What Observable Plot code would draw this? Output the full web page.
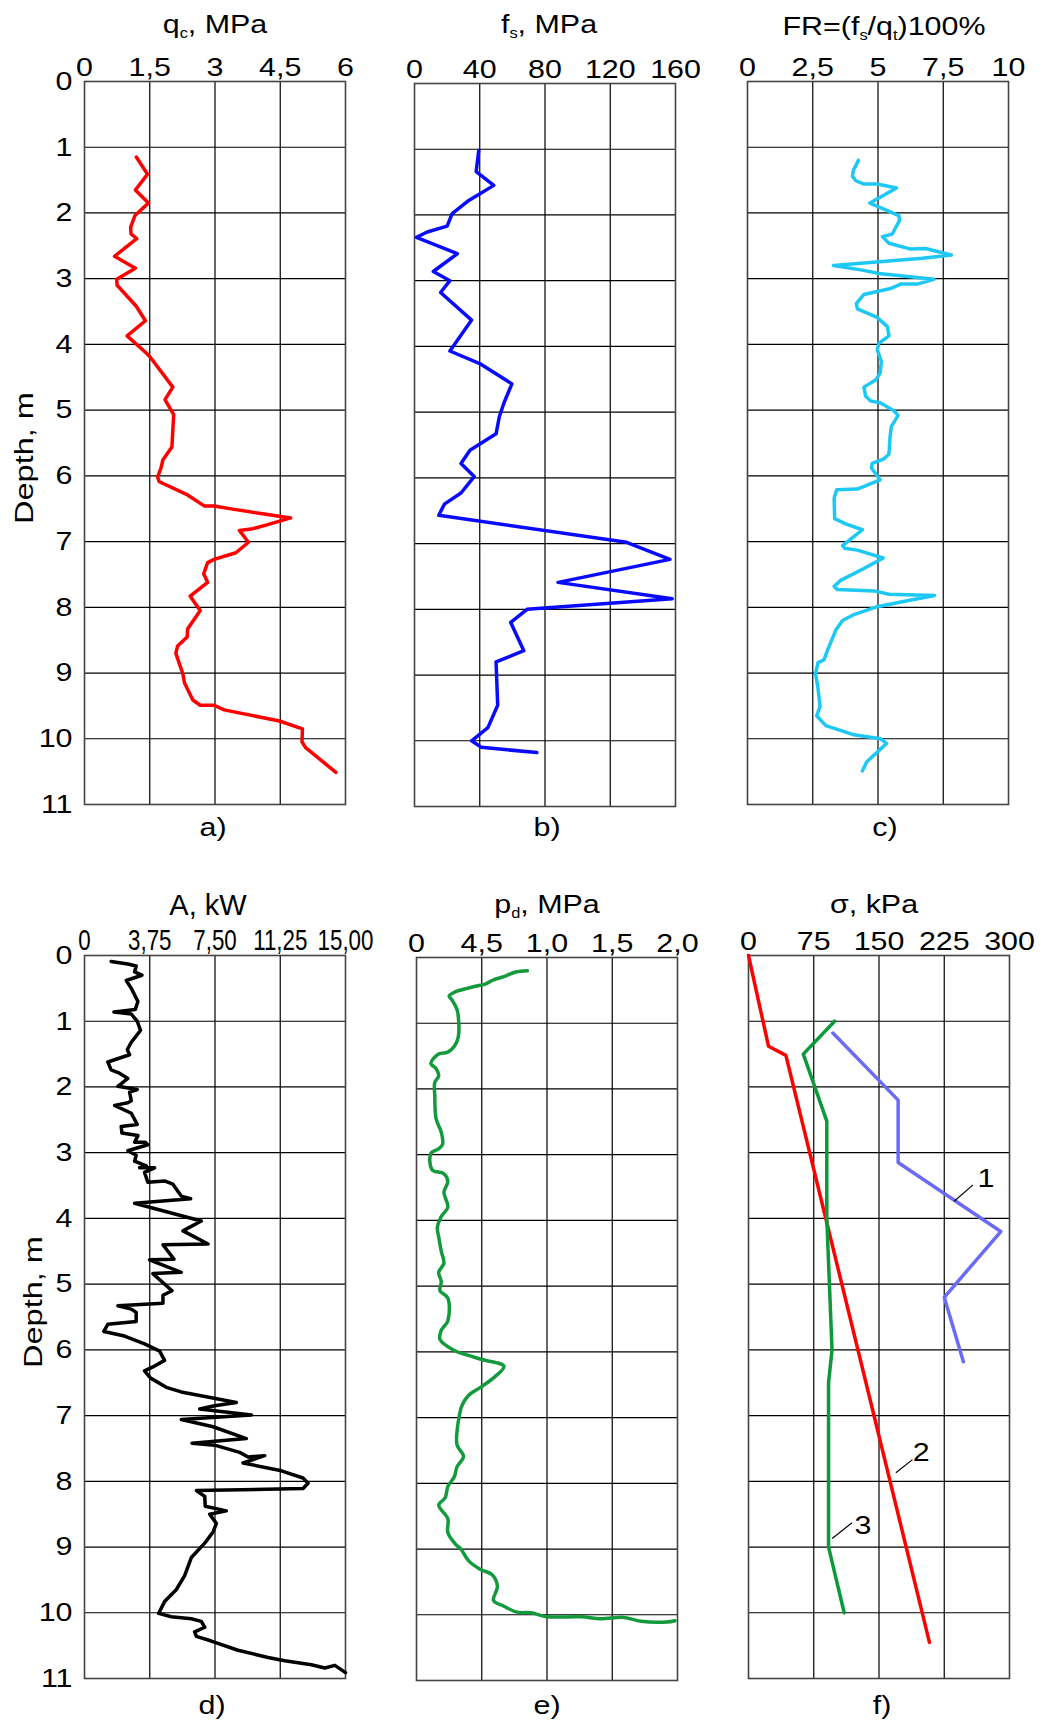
<!DOCTYPE html>
<html><head><meta charset="utf-8">
<script src="https://cdn.jsdelivr.net/npm/d3@7"></script>
<script src="https://cdn.jsdelivr.net/npm/@observablehq/plot@0.6"></script>
<style>
body{margin:0;background:#fff;}
#root{position:relative;width:1046px;height:1723px;overflow:hidden;font-family:"Liberation Sans",Arial,sans-serif;color:#000;}
.t{position:absolute;font-size:26px;line-height:26px;white-space:nowrap;transform:translateX(-50%) scaleX(1.17);}
.t sub{font-size:14px;line-height:0;vertical-align:baseline;position:relative;top:5px;}
.big{font-size:29px;transform:translateX(-50%);}
.rot{position:absolute;font-size:26px;line-height:26px;white-space:nowrap;transform:translate(-50%,-50%) rotate(-90deg) scaleX(1.25);}
svg{position:absolute;}
</style></head><body><div id="root"></div>
<script>
// ---------- DATA ([value, depth] pairs) ----------
const depthTicks = [0,1,2,3,4,5,6,7,8,9,10,11];

const qcTicks = [0,1.5,3,4.5,6];
const qcLabels = ["0","1,5","3","4,5","6"];
const qc = [[1.19,1.15],[1.45,1.41],[1.17,1.65],[1.47,1.85],[1.16,2.04],[1.06,2.22],[1.07,2.32],[1.20,2.39],[0.69,2.66],[1.17,2.84],[0.74,3.01],[0.75,3.10],[1.19,3.42],[1.40,3.64],[0.98,3.87],[1.45,4.15],[1.53,4.21],[2.03,4.65],[1.85,4.84],[2.05,5.07],[2.01,5.56],[1.80,5.76],[1.76,5.88],[1.68,6.02],[1.72,6.09],[2.37,6.29],[2.76,6.46],[2.98,6.46],[3.44,6.51],[4.13,6.58],[4.74,6.64],[4.17,6.75],[3.83,6.81],[3.56,6.83],[3.77,7.01],[3.48,7.17],[2.98,7.27],[2.83,7.32],[2.74,7.49],[2.83,7.62],[2.43,7.83],[2.66,8.05],[2.37,8.33],[2.36,8.45],[2.14,8.59],[2.10,8.70],[2.26,9.01],[2.30,9.15],[2.49,9.41],[2.66,9.49],[2.98,9.49],[3.21,9.56],[4.48,9.73],[5.01,9.85],[5.00,10.05],[5.09,10.14],[5.78,10.51]];

const fsTicks = [0,40,80,120,160];
const fsLabels = ["0","40","80","120","160"];
const fs = [[39.4,1.02],[37.8,1.34],[48.6,1.55],[33.3,1.78],[23.1,1.98],[20,2.17],[7.8,2.26],[1.2,2.34],[26.2,2.59],[11.5,2.86],[21.7,3.0],[16,3.18],[35,3.6],[21.7,4.07],[40.7,4.27],[59.7,4.57],[55,4.85],[52,5.07],[50,5.33],[34,5.58],[28.5,5.78],[36.6,5.98],[28.5,6.23],[18.3,6.40],[14.9,6.57],[130,6.98],[156.6,7.24],[88,7.59],[158,7.84],[69,8.0],[59,8.2],[67,8.63],[50,8.8],[51,9.46],[45,9.8],[35,10.0],[41,10.1],[75,10.18]];

const frTicks = [0,2.5,5,7.5,10];
const frLabels = ["0","2,5","5","7,5","10"];
const fr = [[4.25,1.20],[4.06,1.35],[4.02,1.44],[4.15,1.51],[4.46,1.56],[4.97,1.56],[5.71,1.62],[4.69,1.85],[5.80,2.04],[5.83,2.11],[5.55,2.32],[5.17,2.36],[5.42,2.46],[6.25,2.55],[6.82,2.54],[7.81,2.64],[6.70,2.69],[3.29,2.80],[4.40,2.87],[5.04,2.92],[7.14,3.01],[6.53,3.08],[5.89,3.08],[5.48,3.15],[4.46,3.24],[4.17,3.38],[4.21,3.46],[4.97,3.59],[5.36,3.73],[5.42,3.87],[5.04,3.98],[4.97,4.08],[5.13,4.26],[5.08,4.44],[4.91,4.54],[4.46,4.65],[4.53,4.79],[4.72,4.86],[5.10,4.89],[5.61,5.01],[5.77,5.08],[5.51,5.25],[5.46,5.42],[5.42,5.67],[5.23,5.74],[4.78,5.81],[4.75,5.88],[5.08,6.06],[4.21,6.20],[3.42,6.21],[3.32,6.34],[3.34,6.65],[3.76,6.73],[4.40,6.82],[3.64,7.06],[3.72,7.10],[4.21,7.13],[5.20,7.25],[4.46,7.41],[3.57,7.59],[3.32,7.68],[3.44,7.73],[4.85,7.75],[5.42,7.80],[7.17,7.82],[6.12,7.90],[4.97,7.99],[4.08,8.11],[3.64,8.20],[3.38,8.35],[3.09,8.63],[2.93,8.80],[2.70,8.84],[2.61,9.01],[2.70,9.23],[2.78,9.51],[2.65,9.65],[3.00,9.80],[4.08,9.94],[5.10,10.0],[5.33,10.07],[5.04,10.18],[4.57,10.35],[4.40,10.49]];

const aTicks = [0,3.75,7.5,11.25,15];
const aLabels = ["0","3,75","7,50","11,25","15,00"];
const powerA = [[1.53,0.09],[2.49,0.13],[2.97,0.16],[2.88,0.25],[3.30,0.30],[2.40,0.38],[2.69,0.50],[3.07,0.70],[2.92,0.82],[1.69,0.86],[2.69,0.89],[3.03,1.00],[3.22,1.14],[2.69,1.32],[2.46,1.43],[2.59,1.51],[1.34,1.62],[1.53,1.74],[2.01,1.79],[2.49,1.87],[1.92,1.99],[3.03,2.04],[2.59,2.08],[2.69,2.21],[2.49,2.24],[1.73,2.28],[2.69,2.40],[3.03,2.57],[2.11,2.60],[2.15,2.70],[3.07,2.74],[2.88,2.84],[3.49,2.84],[3.64,2.88],[2.49,2.97],[2.97,3.04],[2.88,3.13],[3.55,3.20],[3.17,3.23],[4.03,3.23],[3.45,3.30],[3.64,3.45],[4.60,3.43],[5.08,3.48],[5.56,3.66],[6.10,3.70],[2.88,3.77],[6.71,4.04],[5.66,4.19],[6.24,4.27],[7.10,4.39],[4.51,4.40],[5.14,4.62],[3.74,4.63],[5.56,4.82],[3.93,4.84],[5.03,5.10],[4.51,5.17],[4.51,5.29],[1.92,5.33],[2.69,5.38],[2.97,5.43],[2.97,5.57],[1.34,5.61],[1.11,5.72],[2.30,5.79],[3.45,5.91],[4.32,6.02],[4.60,6.16],[3.93,6.26],[3.45,6.32],[3.80,6.43],[4.70,6.57],[5.56,6.64],[8.73,6.80],[7.48,6.85],[6.62,6.90],[9.59,6.99],[5.56,7.06],[7.39,7.17],[9.30,7.35],[6.18,7.42],[7.48,7.45],[8.92,7.56],[9.40,7.63],[10.36,7.61],[9.11,7.72],[11.32,7.84],[12.56,7.95],[12.85,8.03],[12.56,8.11],[6.43,8.14],[6.91,8.23],[6.94,8.38],[8.15,8.45],[7.19,8.50],[7.58,8.64],[7.39,8.77],[6.91,8.94],[6.14,9.16],[5.75,9.44],[5.27,9.65],[4.60,9.83],[4.26,10.01],[4.99,10.06],[6.14,10.09],[6.71,10.13],[6.91,10.22],[6.33,10.29],[6.43,10.36],[7.29,10.43],[8.82,10.57],[10.55,10.68],[11.51,10.73],[13.04,10.79],[13.81,10.84],[14.39,10.80],[15.0,10.91]];

const pdTicks = [0,0.5,1,1.5,2];
const pdLabels = ["0","4,5","1,0","1,5","2,0"];
const pd = [[0.85,0.20],[0.76,0.22],[0.67,0.29],[0.59,0.34],[0.52,0.41],[0.47,0.43],[0.39,0.47],[0.30,0.52],[0.25,0.59],[0.27,0.64],[0.31,0.79],[0.32,0.89],[0.32,1.21],[0.29,1.35],[0.24,1.44],[0.17,1.47],[0.11,1.61],[0.15,1.69],[0.17,1.80],[0.14,1.90],[0.14,2.10],[0.15,2.45],[0.19,2.66],[0.20,2.84],[0.17,2.91],[0.11,2.98],[0.12,3.23],[0.21,3.29],[0.24,3.41],[0.21,3.57],[0.24,3.80],[0.19,3.94],[0.16,4.11],[0.17,4.25],[0.19,4.47],[0.21,4.65],[0.17,4.79],[0.19,4.93],[0.18,5.07],[0.24,5.18],[0.24,5.53],[0.19,5.67],[0.18,5.81],[0.29,5.98],[0.39,6.05],[0.51,6.12],[0.67,6.22],[0.60,6.38],[0.49,6.54],[0.40,6.66],[0.35,6.81],[0.33,6.95],[0.31,7.41],[0.36,7.59],[0.31,7.75],[0.29,7.90],[0.24,8.05],[0.22,8.22],[0.17,8.33],[0.24,8.54],[0.24,8.75],[0.30,8.93],[0.34,9.00],[0.40,9.18],[0.49,9.31],[0.58,9.39],[0.62,9.57],[0.59,9.78],[0.67,9.87],[0.77,9.96],[0.88,9.97],[1.00,10.03],[1.26,10.03],[1.41,10.06],[1.59,10.04],[1.72,10.10],[1.92,10.11],[1.98,10.09]];

const sigTicks = [0,75,150,225,300];
const sigLabels = ["0","75","150","225","300"];
const sigma1 = [[97,1.18],[172,2.2],[172,3.15],[290,4.2],[225,5.2],[247,6.18]];
const sigma2 = [[0,0],[23,1.38],[43,1.52],[208,10.45]];
const sigma3 = [[99,1.0],[63,1.5],[90,2.52],[90,4.0],[96,6.0],[92,6.5],[92,9.0],[110,10.0]];
const curveLabels = [["1",273,3.39],["2",198.5,7.57],["3",131.6,8.68]];
const leaders = [[236.4,3.74,258,3.49],[169.4,7.87,188.5,7.67],[96.2,8.87,119,8.63]];

// ---------- LAYOUT ----------
const root = document.getElementById("root");
const W = 261, H = 723, ML = 60, MR = 30, MT = 55, MB = 10;
const STRETCH = 1.17;

function stretch(nodes, s) {
  nodes.forEach(t => {
    const x = parseFloat(t.getAttribute("x")) || 0;
    const tr = t.getAttribute("transform") || "";
    t.setAttribute("transform", `${tr} translate(${x},0) scale(${s},1) translate(${-x},0)`);
  });
}

function panel({left, top, domain, ticks, labels, series, yAxis, narrow, extra = []}) {
  const marks = [
    Plot.gridX(ticks.slice(1, -1), {stroke: "#000", strokeOpacity: 1, strokeWidth: 1.2}),
    Plot.gridY(depthTicks.slice(1, -1), {stroke: "#000", strokeOpacity: 1, strokeWidth: 1.2}),
    Plot.frame({stroke: "#444", strokeWidth: 1.6}),
    Plot.axisX(ticks, {anchor: "top", tickSize: 0, tickPadding: 6, label: null,
      tickFormat: d => labels[ticks.indexOf(d)],
      fontSize: narrow ? 29 : 26}),
    ...series.map(s => Plot.line(s.data, {x: d => d[0], y: d => d[1], stroke: s.color, strokeWidth: 3.5, strokeLinejoin: "round", curve: s.curve || "linear"})),
    ...extra
  ];
  if (yAxis) marks.push(Plot.axisY(depthTicks, {anchor: "left", tickSize: 0, tickPadding: 12, label: null, fontSize: 26, tickFormat: d => String(d)}));
  const svg = Plot.plot({
    width: ML + W + MR, height: MT + H + MB,
    marginLeft: ML, marginRight: MR, marginTop: MT, marginBottom: MB,
    style: {fontFamily: "Liberation Sans, Arial, sans-serif", fontSize: "26px", color: "#000", background: "transparent", overflow: "visible"},
    x: {domain, range: [ML, ML + W], axis: null},
    y: {domain: [0, 11], reverse: true, axis: null},
    marks
  });
  svg.style.left = (left - ML) + "px";
  svg.style.top = (top - MT) + "px";
  const all = Array.from(svg.querySelectorAll("text"));
  const xt = Array.from(svg.querySelectorAll('g[aria-label="x-axis tick label"] text'));
  if (narrow) {
    stretch(xt, 0.77);
    stretch(all.filter(t => !xt.includes(t)), STRETCH);
  } else {
    stretch(all, STRETCH);
  }
  root.appendChild(svg);
}

function text(html, x, baseline, cls = "t") {
  const d = document.createElement("div");
  d.className = cls;
  d.innerHTML = html;
  d.style.left = x + "px";
  d.style.top = (baseline - 22) + "px";
  root.appendChild(d);
}
function rot(html, x, y) {
  const d = document.createElement("div");
  d.className = "rot";
  d.innerHTML = html;
  d.style.left = x + "px";
  d.style.top = y + "px";
  root.appendChild(d);
}

panel({left: 84, top: 81, domain: [0, 6], ticks: qcTicks, labels: qcLabels, yAxis: true,
  series: [{data: qc, color: "#ff0000"}]});
panel({left: 414, top: 83, domain: [0, 160], ticks: fsTicks, labels: fsLabels,
  series: [{data: fs, color: "#0a0aff"}]});
panel({left: 747, top: 81, domain: [0, 10], ticks: frTicks, labels: frLabels,
  series: [{data: fr, color: "#1ec8f5"}]});
panel({left: 84, top: 955, domain: [0, 15], ticks: aTicks, labels: aLabels, yAxis: true, narrow: true,
  series: [{data: powerA, color: "#000"}]});
panel({left: 416, top: 957, domain: [0, 2], ticks: pdTicks, labels: pdLabels,
  series: [{data: pd, color: "#129a3c", curve: "catmull-rom"}]});
panel({left: 748, top: 955, domain: [0, 300], ticks: sigTicks, labels: sigLabels,
  series: [{data: sigma1, color: "#6b6bf5"}, {data: sigma2, color: "#ff0000"}, {data: sigma3, color: "#0a9a3a"}],
  extra: [
    Plot.link(leaders, {x1: d => d[0], y1: d => d[1], x2: d => d[2], y2: d => d[3], stroke: "#000", strokeWidth: 1.2}),
    Plot.text(curveLabels, {x: d => d[1], y: d => d[2], text: d => d[0], fontSize: 26, fill: "#000"})
  ]});

// titles
text("q<sub>c</sub>, MPa", 215, 33);
text("f<sub>s</sub>, MPa", 549, 33);
text("FR=(f<sub>s</sub>/q<sub>t</sub>)100%", 884, 35);
text("A, kW", 208, 914, "t big");
text("p<sub>d</sub>, MPa", 547, 913);
text("σ, kPa", 874, 913);
// panel labels
text("a)", 213, 836);
text("b)", 547, 836);
text("c)", 885, 836);
text("d)", 212, 1714);
text("e)", 547, 1714);
text("f)", 882, 1714);
// depth labels
rot("Depth, m", 24, 458);
rot("Depth, m", 33, 1302);
</script></body></html>
